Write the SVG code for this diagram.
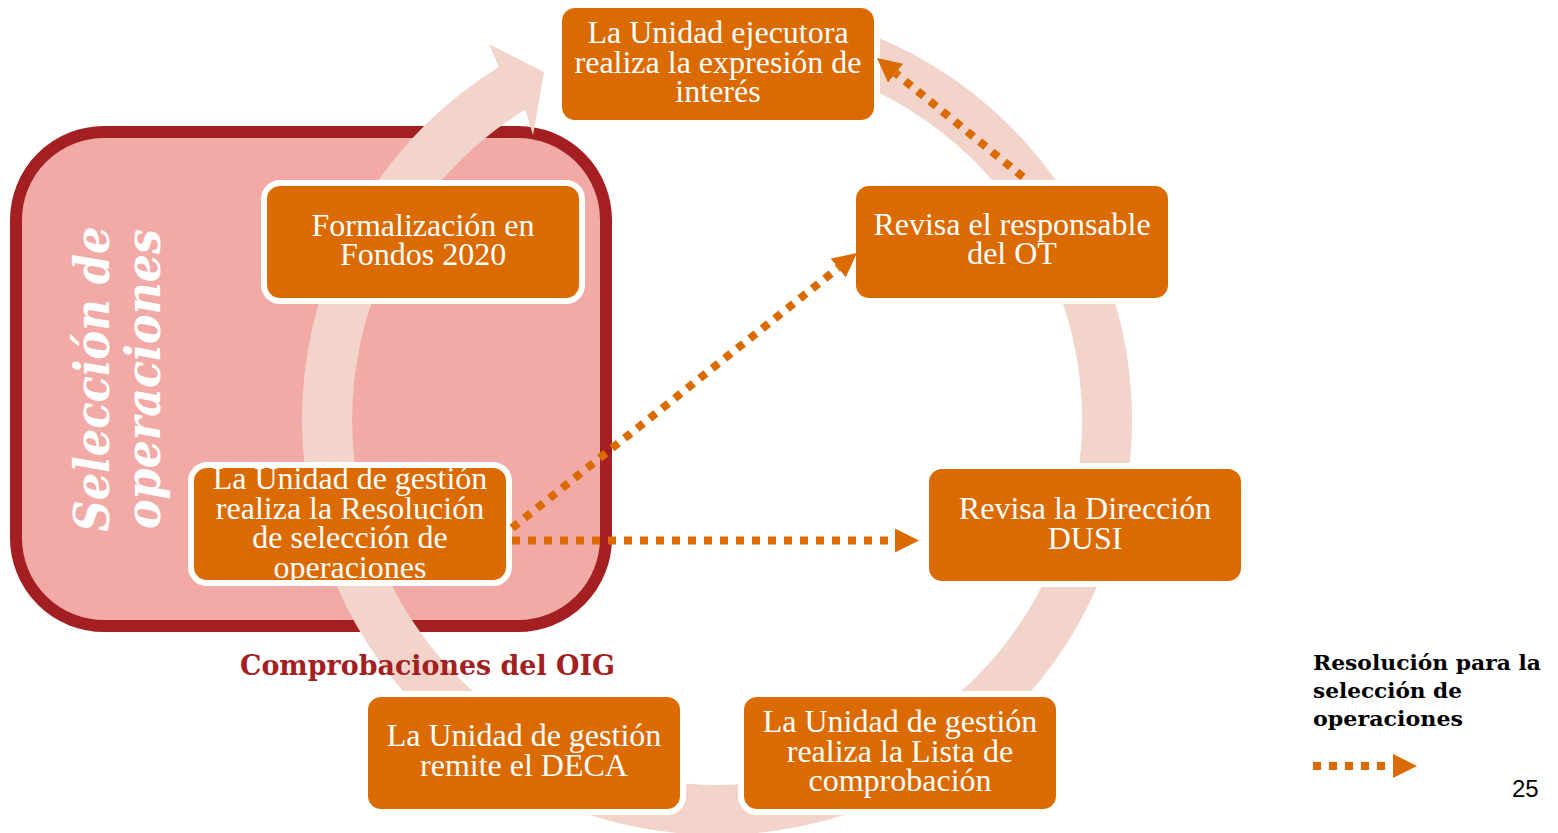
<svg xmlns="http://www.w3.org/2000/svg" width="1558" height="833" viewBox="0 0 1558 833">
<style>
.box{fill:#DB6A00;stroke:#FFFFFF;stroke-width:6}
.bt{font-family:"Liberation Serif","Times New Roman",serif;font-size:32px;fill:#FFFFFF;text-anchor:middle}
.conn{fill:none;stroke:#DB6A00;stroke-width:8;stroke-dasharray:8 8;marker-end:url(#ah)}
.bold{font-family:"DejaVu Serif",Georgia,serif;font-weight:bold}
</style>
<defs>
<marker id="ah" markerUnits="userSpaceOnUse" viewBox="0 0 24 24" markerWidth="24" markerHeight="24" refX="0" refY="12" orient="auto">
<path d="M0,0 L24,12 L0,24 Z" fill="#DB6A00"/>
</marker>
</defs>
<rect width="1558" height="833" fill="#FFFFFF"/>
<g id="seleccion">
<rect x="16" y="132" width="590" height="494" rx="88" ry="88" fill="#F2AAA6" stroke="#A31F22" stroke-width="12"/>
<text class="bold" font-style="italic" font-size="48" fill="#FFFFFF" text-anchor="middle" textLength="305" lengthAdjust="spacingAndGlyphs" transform="translate(109,379) rotate(-90)">Selección de</text>
<text class="bold" font-style="italic" font-size="48" fill="#FFFFFF" text-anchor="middle" textLength="300" lengthAdjust="spacingAndGlyphs" transform="translate(160,379) rotate(-90)">operaciones</text>
</g>
<g id="ciclo">
<path d="M 824.4 19.1 A 415 415 0 1 1 498.9 66.9 L 489 44 L 544 72 L 533 135 L 525.2 109.5 A 365 365 0 1 0 811.5 67.4 Z" fill="#F2D4CB"/>
</g>
<g id="n1">
<rect class="box" x="559" y="5" width="318" height="118" rx="16"/>
<text class="bt" x="718" y="43">La Unidad ejecutora</text>
<text class="bt" x="718" y="73">realiza la expresión de</text>
<text class="bt" x="718" y="102">interés</text>
</g>
<g id="n2">
<rect class="box" x="853" y="183" width="318" height="118" rx="16"/>
<text class="bt" x="1012" y="235">Revisa el responsable</text>
<text class="bt" x="1012" y="264">del OT</text>
</g>
<g id="n3">
<rect class="box" x="926" y="466" width="318" height="118" rx="16"/>
<text class="bt" x="1085" y="519">Revisa la Dirección</text>
<text class="bt" x="1085" y="549">DUSI</text>
</g>
<g id="n4">
<rect class="box" x="741" y="694" width="318" height="118" rx="16"/>
<text class="bt" x="900" y="732">La Unidad de gestión</text>
<text class="bt" x="900" y="762">realiza la Lista de</text>
<text class="bt" x="900" y="791">comprobación</text>
</g>
<g id="n5">
<rect class="box" x="365" y="694" width="318" height="118" rx="16"/>
<text class="bt" x="524" y="746">La Unidad de gestión</text>
<text class="bt" x="524" y="776">remite el DECA</text>
</g>
<g id="n6">
<rect class="box" x="264" y="183" width="318" height="118" rx="16"/>
<text class="bt" x="423" y="236">Formalización en</text>
<text class="bt" x="423" y="265">Fondos 2020</text>
</g>
<g id="n7">
<rect class="box" x="191" y="465" width="318" height="118" rx="16"/>
<text class="bt" x="350" y="489">La Unidad de gestión</text>
<text class="bt" x="350" y="519">realiza la Resolución</text>
<text class="bt" x="350" y="548">de selección de</text>
<text class="bt" x="350" y="578">operaciones</text>
</g>
<g id="oig">
<text class="bold" x="240" y="675" font-size="28" fill="#A31F22" textLength="375" lengthAdjust="spacingAndGlyphs">Comprobaciones del OIG</text>
</g>
<g id="connectors">
<line class="conn" x1="1023" y1="177" x2="895.6" y2="73.2"/>
<line class="conn" x1="512" y1="528" x2="838.2" y2="268"/>
<line class="conn" x1="512" y1="540.5" x2="895" y2="540.5"/>
</g>
<g id="legend">
<text class="bold" x="1313" y="670" font-size="21" fill="#000000" textLength="228" lengthAdjust="spacingAndGlyphs">Resolución para la</text>
<text class="bold" x="1313" y="698" font-size="21" fill="#000000" textLength="149" lengthAdjust="spacingAndGlyphs">selección de</text>
<text class="bold" x="1313" y="726" font-size="21" fill="#000000" textLength="150" lengthAdjust="spacingAndGlyphs">operaciones</text>
<line class="conn" x1="1313" y1="766" x2="1393" y2="766"/>
</g>
<text x="1512" y="797" font-family="'Liberation Sans',Arial,sans-serif" font-size="24" fill="#000000">25</text>
</svg>
